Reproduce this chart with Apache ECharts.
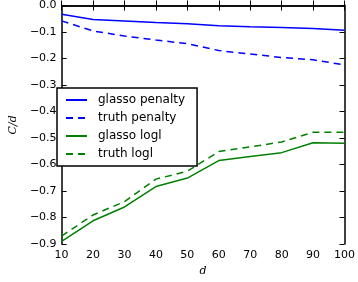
<!DOCTYPE html>
<html><head><meta charset="utf-8">
<script src="https://cdn.jsdelivr.net/npm/echarts@6/dist/echarts.min.js"></script>
<style>html,body{margin:0;padding:0;background:#fff}#c{width:358px;height:282px}</style>
</head><body><div id="c"></div>
<script>
const dValues = [10, 20, 30, 40, 50, 60, 70, 80, 90, 100];
const glassoPenalty = [-0.033, -0.053, -0.058, -0.064, -0.069, -0.076, -0.080, -0.083, -0.087, -0.093];
const truthPenalty = [-0.058, -0.096, -0.115, -0.130, -0.144, -0.170, -0.183, -0.196, -0.205, -0.224];
const glassoLogl = [-0.890, -0.812, -0.760, -0.683, -0.651, -0.585, -0.570, -0.555, -0.518, -0.520];
const truthLogl = [-0.870, -0.790, -0.740, -0.655, -0.625, -0.551, -0.533, -0.515, -0.478, -0.478];
const seriesNames = ['glasso penalty', 'truth penalty', 'glasso logl', 'truth logl'];
const xTicks = [10, 20, 30, 40, 50, 60, 70, 80, 90, 100];
const yTicks = [0.0, -0.1, -0.2, -0.3, -0.4, -0.5, -0.6, -0.7, -0.8, -0.9];

const chart = echarts.init(document.getElementById('c'));
const font = 'DejaVu Sans';
const fmtY = v => (v < 0 ? '\u2212' : '') + Math.abs(v).toFixed(1);
const axisLine = {show: true, lineStyle: {color: '#000', width: 1.5}};
const tick = {show: true, inside: true, length: 5, lineStyle: {color: '#000', width: 1}};
function mk(data, color, dashed, name) {
  return {
    name, type: 'line', symbol: 'none', showSymbol: false, smooth: false,
    data: dValues.map((d, i) => [d, data[i]]),
    lineStyle: {color, width: 1.5, type: dashed ? [7, 5] : 'solid', dashOffset: dashed ? 0 : 0},
    itemStyle: {color}
  };
}
chart.setOption({
  animation: false,
  grid: {left: 51, right: 11, top: 5, bottom: 32},
  legend: {
    left: 57, top: 88, orient: 'vertical',
    data: seriesNames,
    backgroundColor: '#fff', borderColor: '#000', borderWidth: 1.5, borderRadius: 0,
    padding: [6, 12, 6, 8], itemGap: 6, itemWidth: 21, itemHeight: 13,
    itemStyle: {opacity: 0},
    textStyle: {fontFamily: font, fontSize: 12, color: '#000', padding: [0, 0, 0, 6]}
  },
  xAxis: [{
    type: 'value', min: 10, max: 100, interval: 10,
    axisLine, axisTick: tick, splitLine: {show: false},
    axisLabel: {fontFamily: font, fontSize: 11, color: '#000', margin: 6},
    name: 'd', nameLocation: 'middle', nameGap: 19,
    nameTextStyle: {fontFamily: 'DejaVu Serif', fontStyle: 'italic', fontSize: 11, color: '#000'}
  }, {
    type: 'value', position: 'top', min: 10, max: 100, interval: 10,
    axisLine, axisTick: tick, axisLabel: {show: false}, splitLine: {show: false}
  }],
  yAxis: [{
    type: 'value', min: -0.9, max: 0, interval: 0.1,
    axisLine, axisTick: tick, splitLine: {show: false},
    axisLabel: {fontFamily: font, fontSize: 11, color: '#000', margin: 5, formatter: fmtY},
    name: 'C/d', nameLocation: 'middle', nameGap: 36, nameRotate: 90,
    nameTextStyle: {fontFamily: 'DejaVu Serif', fontStyle: 'italic', fontSize: 11, color: '#000'}
  }, {
    type: 'value', position: 'right', min: -0.9, max: 0, interval: 0.1,
    axisLine, axisTick: tick, axisLabel: {show: false}, splitLine: {show: false}
  }],
  series: [
    mk(glassoPenalty, '#0000ff', false, seriesNames[0]),
    mk(truthPenalty, '#0000ff', true, seriesNames[1]),
    mk(glassoLogl, '#008000', false, seriesNames[2]),
    mk(truthLogl, '#008000', true, seriesNames[3])
  ]
});
</script></body></html>
